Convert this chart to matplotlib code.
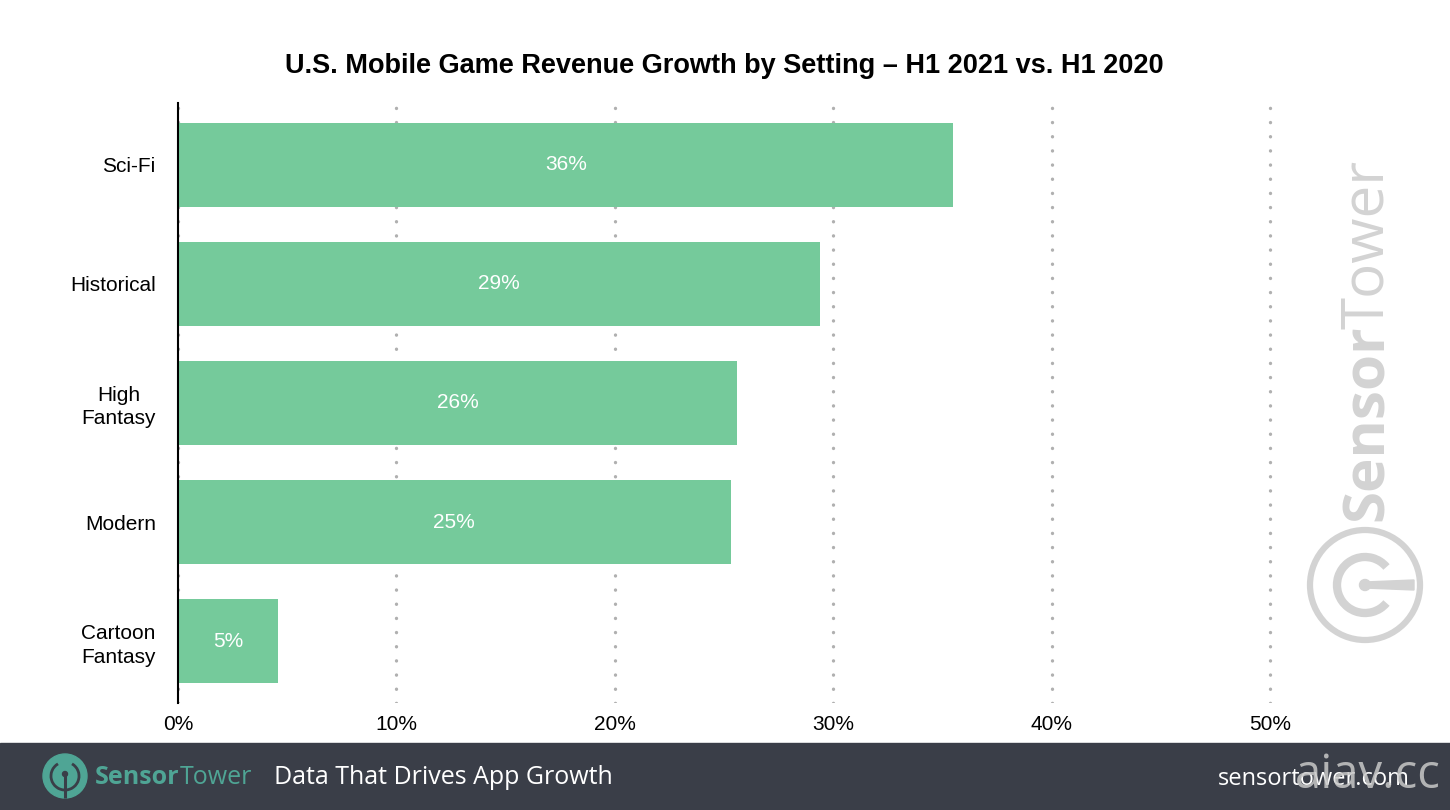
import matplotlib
matplotlib.use('Agg')
import matplotlib.pyplot as plt
from matplotlib.patches import Rectangle, Circle, Arc, Polygon

# data
settings = ['Sci-Fi', 'Historical', 'High\nFantasy', 'Modern', 'Cartoon\nFantasy']
growth = [35.5, 29.4, 25.6, 25.3, 4.6]
labels = ['36%', '29%', '26%', '25%', '5%']
xticks = [0, 10, 20, 30, 40, 50]

W, H = 1450, 810
BAR = '#75ca9b'
FOOT = '#3a3e48'
TEAL = '#4fa595'
WM = '#d3d3d3'

fig = plt.figure(figsize=(W / 100, H / 100), dpi=100)
fig.patch.set_facecolor('white')


def box(x0, y0, x1, y1):
    """pixel box (top-left origin) -> figure rect"""
    return [x0 / W, 1 - y1 / H, (x1 - x0) / W, (y1 - y0) / H]


# overlay in pixel coords for footer and watermark
ov = fig.add_axes([0, 0, 1, 1], zorder=0)
ov.set_xlim(0, W)
ov.set_ylim(H, 0)
ov.axis('off')

ax = fig.add_axes(box(178, 103, 1281, 703), zorder=2)
ax.patch.set_alpha(0)
y = list(range(len(settings)))
bars = ax.barh(y, growth, height=0.71, color=BAR, zorder=2)
ax.set_ylim(4.52, -0.52)
ax.set_xlim(0, 50.5)
ax.set_yticks(y)
ax.set_yticklabels(settings, fontsize=15, family='Liberation Sans')
for t in ax.get_yticklabels():
    t.set_multialignment('center')
    t.set_linespacing(1.3)
ax.set_xticks(xticks)
ax.set_xticklabels([f'{v}%' for v in xticks], fontsize=15, family='Liberation Sans')
ax.tick_params(length=0)
ax.tick_params(axis='y', pad=16)
ax.tick_params(axis='x', pad=9)
for s in ['top', 'right', 'bottom']:
    ax.spines[s].set_visible(False)
ax.spines['left'].set_linewidth(1.5)
ax.spines['left'].set_color('black')
ax.set_axisbelow(True)
ax.xaxis.grid(True, color='#b0b0b0', linewidth=2.4, linestyle=(0, (0.05, 4.2)),
              dash_capstyle='round')

for b, lab in zip(bars, labels):
    ax.text(b.get_width() / 2, b.get_y() + b.get_height() / 2, lab,
            ha='center', va='center', color='white', fontsize=15,
            family='Liberation Sans', zorder=3)

fig.text(724 / W, 1 - 66 / H,
         'U.S. Mobile Game Revenue Growth by Setting \u2013 H1 2021 vs. H1 2020',
         ha='center', va='center', fontsize=19.5, fontweight='bold',
         family='Liberation Sans')

# watermark on the right
ov.text(1368, 521, 'Sensor', rotation=90, ha='center', va='bottom',
        fontsize=42, fontweight='bold', color=WM, family='Open Sans')
ov.text(1368, 160, 'Tower', rotation=90, ha='center', va='top',
        fontsize=42, color=WM, family='Open Sans')
ov.add_patch(Circle((1365, 585), 55, fill=False, ec=WM, lw=4.5))
ov.add_patch(Arc((1365, 585), 56, 56, theta1=40, theta2=320, ec=WM, lw=6))
ov.add_patch(Circle((1365, 585), 5.5, color=WM))
ov.add_patch(Polygon([[1365, 582], [1414, 580], [1414, 590], [1365, 588]], color=WM))

# footer band
ov.add_patch(Rectangle((0, 743), W, H - 743, color=FOOT))
ov.add_patch(Circle((65, 776), 22, color=TEAL))
ov.add_patch(Arc((65, 776), 28, 28, theta1=-60, theta2=240, ec=FOOT, lw=2))
ov.plot([65, 65], [774, 798], color=FOOT, lw=2.2, solid_capstyle='butt')
ov.add_patch(Circle((65, 774), 2.5, color=FOOT))
t1 = ov.text(95, 777, 'Sensor', ha='left', va='center', fontsize=18,
             fontweight='bold', color=TEAL, family='Open Sans')
fig.canvas.draw()
bb = t1.get_window_extent()
x_end = ov.transData.inverted().transform((bb.x1, bb.y0))[0]
ov.text(x_end, 777, 'Tower', ha='left', va='center', fontsize=18,
        color=TEAL, family='Open Sans')
ov.text(274, 777, 'Data That Drives App Growth', ha='left', va='center',
        fontsize=18, color='white', family='Open Sans')
ov.text(1410, 779, 'sensortower.com', ha='right', va='center',
        fontsize=17, color='white', family='Open Sans')
ov.text(1441, 775, 'aiav.cc', ha='right', va='center', fontsize=34,
        color='#c8c8c8', alpha=0.85, family='Open Sans')

fig.savefig('out.png', dpi=100)
